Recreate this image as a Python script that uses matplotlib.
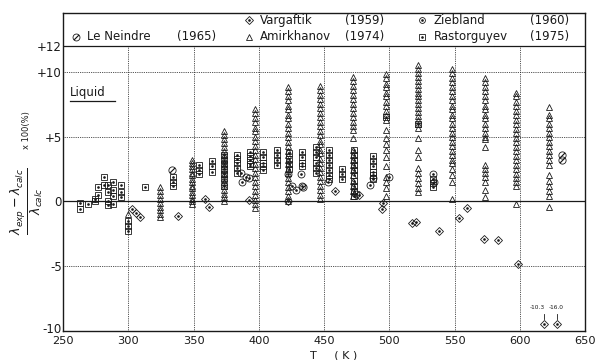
import numpy as np
import matplotlib.pyplot as plt
from matplotlib.transforms import ScaledTranslation

plt.rc('font', family='DejaVu Sans', size=8)

#### data
# Amirkhanov (1974): isotherm columns of triangles
amir_T = [300, 324, 349, 373, 397, 422, 447, 472, 497, 522, 548, 573, 597, 622]
amir_v = [
    [-1.0],
    [1.1, 0.8, 0.5, 0.2, -0.1, -0.4, -0.7, -1.0, -1.2],
    [3.2, 3.0, 2.7, 2.5, 2.2, 2.0, 1.7, 1.5, 1.2, 1.0, 0.7, 0.5, 0.2, 0.0, -0.2],
    [5.4, 5.1, 4.8, 4.5, 4.2, 3.9, 3.6, 3.3, 3.0, 2.7, 2.4, 2.1, 1.8, 1.5, 1.2, 0.9, 0.6, 0.3, 0.0],
    [7.1, 6.8, 6.4, 6.1, 5.7, 5.4, 5.0, 4.7, 4.3, 4.0, 3.6, 3.3, 2.9, 2.6, 2.2, 1.9, 1.5, 1.2, 0.8, 0.5, 0.1, -0.2, -0.5],
    [8.8, 8.5, 8.1, 7.8, 7.4, 7.1, 6.7, 6.4, 6.0, 5.7, 5.3, 5.0, 4.6, 4.3, 3.9, 3.6, 3.2, 2.9, 2.5, 2.2, 1.8, 1.5, 1.1, 0.8, 0.4, 0.0],
    [8.9, 8.6, 8.2, 7.9, 7.5, 7.2, 6.8, 6.5, 6.1, 5.8, 5.4, 5.1, 4.7, 4.4, 4.0, 3.7, 3.3, 3.0, 2.6, 2.3, 1.9, 1.6, 1.2, 0.9, 0.5, 0.2],
    [9.6, 9.3, 8.9, 8.6, 8.2, 7.9, 7.5, 7.2, 6.8, 6.5, 6.1, 5.8, 5.5, 4.9, 4.0, 3.6, 3.2, 2.8, 2.4, 2.0, 1.6, 1.2, 0.8, 0.4],
    [9.8, 9.5, 9.1, 8.8, 8.4, 8.1, 7.7, 7.4, 7.0, 6.7, 6.3, 5.5, 4.9, 4.4, 4.0, 3.4, 2.7, 1.9, 1.5, 1.0, 0.4],
    [10.5, 10.2, 9.9, 9.6, 9.3, 9.0, 8.7, 8.4, 8.1, 7.8, 7.5, 7.2, 6.9, 6.6, 6.3, 6.0, 5.7, 4.9, 4.0, 3.4, 2.6, 2.2, 1.8, 1.4, 1.0, 0.7],
    [10.2, 9.9, 9.5, 9.2, 8.8, 8.5, 8.1, 7.8, 7.4, 7.1, 6.7, 6.4, 6.0, 5.7, 5.3, 5.0, 4.6, 4.3, 3.9, 3.6, 3.2, 3.0, 2.5, 2.0, 1.5, 0.2],
    [9.5, 9.2, 8.8, 8.5, 8.1, 7.8, 7.4, 7.1, 6.7, 6.4, 6.0, 5.7, 5.3, 5.0, 4.8, 4.2, 2.8, 2.5, 2.2, 1.9, 1.5, 0.9, 0.3],
    [8.4, 8.1, 7.7, 7.4, 7.0, 6.7, 6.3, 6.0, 5.6, 5.3, 4.9, 4.6, 4.2, 3.9, 3.5, 3.2, 2.8, 2.5, 2.1, 1.8, 1.5, 1.2, -0.2],
    [7.3, 6.7, 6.4, 6.0, 5.7, 5.3, 5.0, 4.6, 4.3, 3.9, 3.6, 3.2, 2.8, 2.0, 1.6, 1.2, 0.8, 0.4, -0.4],
]

# Rastorguyev (1975): squares
rast_T = [263, 269, 274, 277, 281, 284, 288, 294, 300, 313, 334, 354, 364, 373, 383,
          393, 403, 414, 423, 433, 444, 454, 464, 473, 487, 497, 522, 533]
rast_v = [
    [-0.1, -0.6], [-0.2], [0.0, 0.2], [1.1, 0.5], [1.9, 1.3], [1.3, 0.7, 0.0, -0.3],
    [1.5, 0.9, 0.4, -0.2], [1.3, 0.7, 0.3], [-1.5, -1.9, -2.3], [1.1], [1.9, 1.5, 1.2],
    [2.8, 2.4, 2.1], [3.1, 2.7, 2.3], [3.6, 3.2, 2.9, 2.5, 2.1, 1.7, 1.2],
    [3.6, 3.3, 3.0, 2.6, 2.2], [3.8, 3.5, 3.2, 2.9, 2.7], [3.8, 3.4, 3.0, 2.7, 2.4],
    [4.0, 3.6, 3.2, 2.8], [3.7, 3.3, 2.9, 2.5], [3.8, 3.4, 3.0, 2.7],
    [4.2, 3.8, 3.4, 3.0, 2.6, 2.2], [4.0, 3.6, 3.2, 2.8, 2.4, 2.0, 1.7], [2.5, 2.1, 1.7],
    [4.0, 3.6, 3.2, 2.8, 2.4, 2.0, 1.6, 1.2, 0.8, 0.4], [3.5, 3.1, 2.7, 2.3, 2.0, 1.7],
    [6.5], [6.0], [1.7, 1.4, 1.1],
]

# Vargaftik (1959): diamonds (two off-scale points drawn at the bottom edge)
varg_T = [303, 306, 309, 338, 359, 362, 392, 422, 458, 477, 494, 495, 517.5, 520.5,
          538, 553, 559.5, 572.5, 583, 598.5, 618, 628.5]
varg_v = [-0.6, -0.9, -1.2, -1.1, 0.15, -0.4, 0.1, 0.0, 0.8, 0.5, -0.6, -0.1, -1.7, -1.6,
          -2.3, -1.3, -0.5, -2.9, -3.0, -4.8, -9.5, -9.5]

# Ziebland (1960): circles
zieb_T = [386, 387, 390, 392, 422, 425, 428, 432, 433, 453, 474, 485, 487, 500, 533, 534]
zieb_v = [2.2, 1.5, 1.9, 1.8, 2.1, 1.2, 0.9, 2.1, 1.2, 1.5, 0.6, 1.3, 1.8, 1.9, 2.1, 1.5]

# Le Neindre (1965): slashed circles
lene_T = [333.5, 434, 632, 632]
lene_v = [2.4, 1.1, 3.6, 3.2]

offscale_T = [618, 628.5]
offscale_lab = ['-10.3', '-16.0']

legend_rows = [
    ('D', 'Vargaftik', '(1959)', 'o', 'Ziebland', '(1960)'),
    ('^', 'Amirkhanov', '(1974)', 's', 'Rastorguyev', '(1975)'),
]

#### plotting
ink = '#1a1a1a'
fig = plt.figure(figsize=(5.96, 3.6), dpi=100)
ax = fig.add_axes([0.106, 0.081, 0.876, 0.883])
ax.set_xlim(250, 650)
ax.set_ylim(-10, 14.55)

# grid
for t in range(300, 650, 50):
    ax.plot([t, t], [-10, 12], color=ink, lw=0.6, ls=(0, (1, 1.2)), zorder=1)
for yv in [10, 5, -5]:
    ax.plot([250, 650], [yv, yv], color=ink, lw=0.6, ls=(0, (1, 1.2)), zorder=1)
ax.plot([250, 650], [0, 0], color=ink, lw=0.9, zorder=1)
ax.plot([250, 650], [12, 12], color=ink, lw=0.9, zorder=1)


def scatter(T, v, marker, ms, dot=True):
    ax.plot(T, v, ls='none', marker=marker, ms=ms, mfc='none', mec=ink, mew=0.6, zorder=3)
    if dot:
        ax.plot(T, v, ls='none', marker='o', ms=0.9, mfc=ink, mec=ink, zorder=4)


def flatten(Ts, vs):
    xs = np.concatenate([[t] * len(v) for t, v in zip(Ts, vs)])
    ys = np.concatenate(vs)
    return xs, ys


aT, av = flatten(amir_T, amir_v)
rT, rv = flatten(rast_T, rast_v)
scatter(aT, av, '^', 4.8, dot=False)
scatter(rT, rv, 's', 4.2)
scatter(varg_T, varg_v, 'D', 4.2)
scatter(zieb_T, zieb_v, 'o', 5.0)
scatter(lene_T, lene_v, 'o', 5.2, dot=False)
ax.plot(lene_T, lene_v, ls='none', marker=(2, 2, -45), ms=5.0, mec=ink, mew=0.6, zorder=4)

# off-scale labels
for t, lab, dx in zip(offscale_T, offscale_lab, [-5, -1]):
    ax.text(t + dx, -8.2, lab, fontsize=4.2, ha='center', va='center', color=ink)
    ax.plot([t, t], [-8.7, -9.1], color=ink, lw=0.6)

# legend band
rows_y = [14.0, 12.7]
for (m1, n1, y1, m2, n2, y2), yy in zip(legend_rows, rows_y):
    for m, n, yr, x0 in [(m1, n1, y1, 392), (m2, n2, y2, 525)]:
        ms = 4.2 if m != '^' else 4.6
        ax.plot([x0], [yy], ls='none', marker=m, ms=ms, mfc='none', mec=ink, mew=0.6)
        if m != '^':
            ax.plot([x0], [yy], ls='none', marker='o', ms=0.9, color=ink)
        ax.text(x0 + 9, yy, n, fontsize=8.5, va='center', color=ink)
        ax.text(x0 + (74 if x0 == 392 else 83), yy, yr, fontsize=8.5, va='center', color=ink)
ax.plot([260], [12.7], ls='none', marker='o', ms=5.0, mfc='none', mec=ink, mew=0.6)
ax.plot([260], [12.7], ls='none', marker=(2, 2, -45), ms=5.0, mec=ink, mew=0.6)
ax.text(268, 12.7, 'Le Neindre', fontsize=8.5, va='center', color=ink)
ax.text(337, 12.7, '(1965)', fontsize=8.5, va='center', color=ink)

# Liquid
ax.text(255.5, 8.4, 'Liquid', fontsize=8.5, va='center', color=ink)
ax.plot([255.5, 290], [7.75, 7.75], color=ink, lw=0.9)

# axes
ax.set_xticks(range(250, 651, 50))
ax.set_yticks([12, 10, 5, 0, -5, -10])
ax.set_yticklabels(['+12', '+10', '+5', '0', '-5', '-10'])
ax.tick_params(length=0, labelsize=8.5, colors=ink)
ax.tick_params(axis='y', pad=1)
ax.tick_params(axis='x', pad=4, labelsize=8.2)
for s in ax.spines.values():
    s.set_linewidth(1.0)
    s.set_color(ink)

# lift the bottom y label a touch so it clears the first x label
lab_m10 = ax.get_yticklabels()[-1]
lab_m10.set_transform(lab_m10.get_transform() + ScaledTranslation(0, 2 / 72, fig.dpi_scale_trans))

fig.text(0.045, 0.44, r'$\frac{\lambda_{exp}-\lambda_{calc}}{\lambda_{calc}}$', rotation=90,
         fontsize=13, ha='center', va='center', color=ink)
fig.text(0.045, 0.64, 'x 100(%)', rotation=90, fontsize=6, ha='center', va='center', color=ink)
fig.text(0.52, 0.0, 'T     ( K )', fontsize=8, ha='left', va='bottom', color=ink)

plt.savefig('out.png', dpi=100)
